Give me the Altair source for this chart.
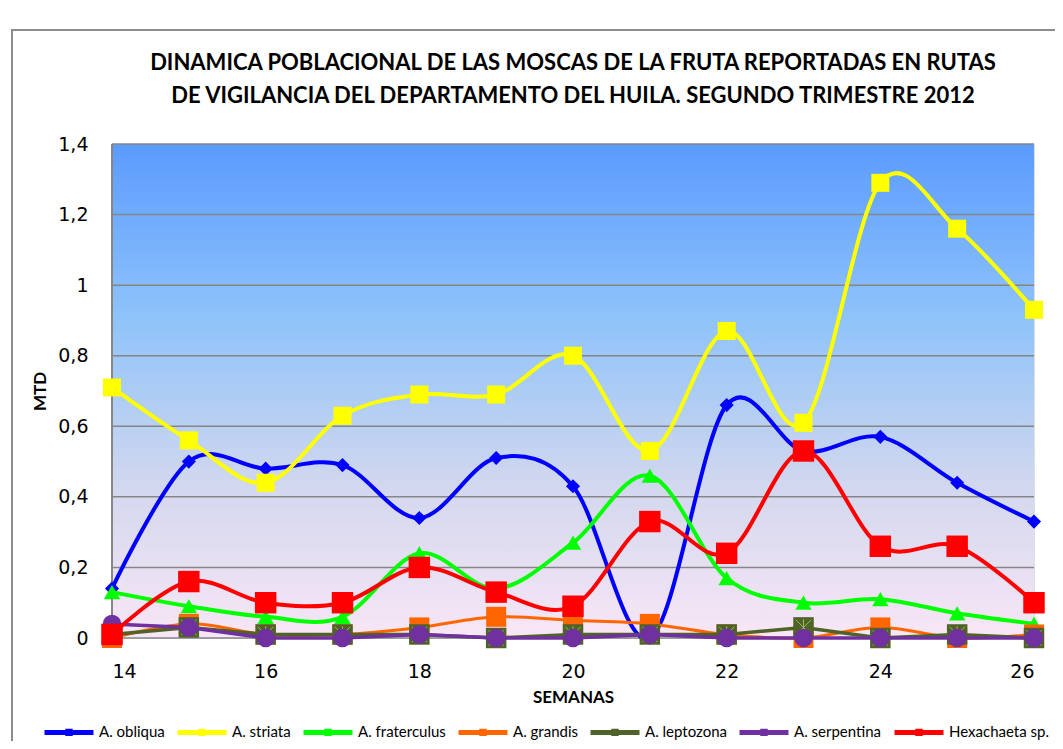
import altair as alt
import pandas as pd

# ---------------- data ----------------
weeks = [14, 15, 16, 17, 18, 19, 20, 21, 22, 23, 24, 25, 26]
series_names = ["A. obliqua", "A. striata", "A. fraterculus", "A. grandis",
                "A. leptozona", "A. serpentina", "Hexachaeta sp."]
obliqua = [0.14, 0.50, 0.48, 0.49, 0.34, 0.51, 0.43, 0.00, 0.66, 0.53, 0.57, 0.44, 0.33]
striata = [0.71, 0.56, 0.44, 0.63, 0.69, 0.69, 0.80, 0.53, 0.87, 0.61, 1.29, 1.16, 0.93]
fraterculus = [0.13, 0.09, 0.06, 0.06, 0.24, 0.14, 0.27, 0.46, 0.17, 0.10, 0.11, 0.07, 0.04]
grandis = [0.00, 0.04, 0.01, 0.01, 0.03, 0.06, 0.05, 0.04, 0.01, 0.00, 0.03, 0.00, 0.01]
leptozona = [0.01, 0.03, 0.01, 0.01, 0.01, 0.00, 0.01, 0.01, 0.01, 0.03, 0.00, 0.01, 0.00]
serpentina = [0.04, 0.03, 0.00, 0.00, 0.01, 0.00, 0.00, 0.01, 0.00, 0.00, 0.00, 0.00, 0.00]
hexachaeta = [0.01, 0.16, 0.10, 0.10, 0.20, 0.13, 0.09, 0.33, 0.24, 0.53, 0.26, 0.26, 0.10]
y_ticks = [0, 0.2, 0.4, 0.6, 0.8, 1.0, 1.2, 1.4]
x_ticks = [14, 16, 18, 20, 22, 24, 26]
title_lines = ["DINAMICA POBLACIONAL DE LAS MOSCAS DE LA FRUTA REPORTADAS EN RUTAS",
               "DE VIGILANCIA DEL DEPARTAMENTO DEL HUILA. SEGUNDO TRIMESTRE 2012"]

# ---------------- styles ----------------
colors = ["#0000FF", "#FFFF00", "#00FF00", "#FF6600", "#4F6228", "#7030A0", "#FF0000"]
shapes = ["diamond", "square", "triangle-up", "square", "square", "circle", "square"]
msizes = [200, 324, 270, 400, 420, 340, 460]
lwidths = [4, 4, 4, 3, 3.5, 3.5, 4]
interps = ["cardinal", "cardinal", "cardinal", "cardinal", "linear", "linear", "cardinal"]

W, H = 922, 494
FONT = "Lato"
TICKFONT = "DejaVu Sans"

all_vals = [obliqua, striata, fraterculus, grandis, leptozona, serpentina, hexachaeta]
rows = []
for name, vals in zip(series_names, all_vals):
    for w, v in zip(weeks, vals):
        rows.append({"Semana": w, "Serie": name, "MTD": v})
df = pd.DataFrame(rows)

x_enc = alt.X("Semana:Q",
              scale=alt.Scale(domain=[14, 26], nice=False, zero=False),
              axis=alt.Axis(values=x_ticks, format="d", title="SEMANAS",
                            labelFont=TICKFONT, labelFontSize=19, labelColor="black",
                            labelPadding=24, ticks=False, tickSize=0, domain=False, grid=False,
                            titleFont=FONT, titleFontSize=17, titleFontWeight="bold",
                            titleColor="black", titleY=59, titleBaseline="middle"))
y_enc = alt.Y("MTD:Q",
              scale=alt.Scale(domain=[0, 1.4], nice=False),
              axis=alt.Axis(values=y_ticks,
                            labelExpr="replace(format(datum.value, '.1~f'), '.', ',')",
                            title="MTD", labelFont=TICKFONT, labelFontSize=19, labelColor="black",
                            labelPadding=24, ticks=False, tickSize=0, domain=False, grid=False,
                            titleFont=FONT, titleFontSize=17, titleFontWeight="bold",
                            titleColor="black", titleX=-72, titleY=H / 2,
                            titleAngle=-90, titleBaseline="middle", titleAlign="center"))
color_enc = alt.Color("Serie:N",
                      scale=alt.Scale(domain=series_names, range=colors),
                      legend=alt.Legend(orient="none", legendX=-70, legendY=561,
                                        direction="horizontal", title=None,
                                        symbolType="M-1,0H1M-0.05,-0.05H0.05V0.05H-0.05Z",
                                        symbolSize=2400,
                                        symbolStrokeWidth=5, labelFont=FONT,
                                        labelFontSize=15, labelColor="black",
                                        labelOffset=3, columnPadding=2,
                                        columns=7, labelLimit=200))

one = pd.DataFrame({"a": [0]})

frame = alt.Chart(one).mark_rect(fillOpacity=0, stroke="#8C8C8C", strokeWidth=2).encode(
    x=alt.value(-100), x2=alt.value(1300), y=alt.value(-114), y2=alt.value(900))

background = alt.Chart(one).mark_rect(
    fill=alt.Gradient(gradient="linear", x1=0, y1=0, x2=0, y2=1,
                      stops=[alt.GradientStop(offset=0, color="#5B9BFF"),
                             alt.GradientStop(offset=0.35, color="#8EC3FA"),
                             alt.GradientStop(offset=0.7, color="#D3D8EE"),
                             alt.GradientStop(offset=1, color="#F8E6F6")])
).encode(x=alt.value(0), x2=alt.value(W), y=alt.value(0), y2=alt.value(H))

grid = alt.Chart(pd.DataFrame({"MTD": y_ticks})).mark_rule(
    color="#868686", strokeWidth=1.5).encode(y=y_enc)
left_axis = alt.Chart(one).mark_rule(color="#868686", strokeWidth=2).encode(
    x=alt.value(0), y=alt.value(0), y2=alt.value(H))

layers = [frame, background, grid, left_axis]
for i, name in enumerate(series_names):
    base = alt.Chart(df).transform_filter(alt.datum.Serie == name)
    line = base.mark_line(interpolate=interps[i], tension=0, strokeWidth=lwidths[i]).encode(
        x=x_enc, y=y_enc, color=color_enc)
    pts = base.mark_point(shape=shapes[i], size=msizes[i], filled=True, opacity=1,
                          color=colors[i]).encode(x=x_enc, y=y_enc)
    layers += [line, pts]
    if name == "A. leptozona":
        cross = base.mark_point(shape="M-0.75,-0.75L0.75,0.75M-0.75,0.75L0.75,-0.75M0,-0.8L0,0.8",
                                size=msizes[i], filled=False, opacity=1,
                                color="#9BBB59", strokeWidth=1).encode(x=x_enc, y=y_enc)
        layers.append(cross)

chart = alt.layer(*layers).properties(
    width=W, height=H,
    title=alt.TitleParams(text=title_lines, font=FONT, fontSize=22, fontWeight="bold",
                          color="black", anchor="middle", lineHeight=33, offset=0, dy=79),
    autosize=alt.AutoSizeParams(type="none"),
    padding={"left": 104, "top": 136, "right": 21, "bottom": 103},
).configure_view(stroke=None).configure(background="white")

chart.save("out.html", embed_options={"renderer": "svg", "actions": False})
